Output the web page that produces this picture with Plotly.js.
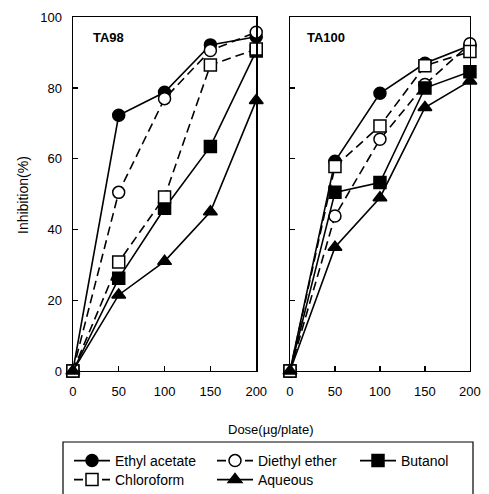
<!DOCTYPE html>
<html>
<head>
<meta charset="utf-8">
<script src="https://cdn.plot.ly/plotly-3.0.1.min.js"></script>
<style>html,body{margin:0;padding:0;background:#fff;}#chart{width:489px;height:494px;}</style>
</head>
<body>
<div id="chart"></div>
<script>
const doses = [0, 50, 100, 150, 200];
const seriesNames = ["Ethyl acetate", "Diethyl ether", "Butanol", "Chloroform", "Aqueous"];
// TA98 panel
const ta98_ethylAcetate = [0, 72.3, 78.8, 92.2, 94.5];
const ta98_diethylEther = [0, 50.5, 77.0, 90.6, 95.8];
const ta98_butanol      = [0, 26.2, 46.0, 63.5, 90.5];
const ta98_chloroform   = [0, 30.8, 49.2, 86.5, 91.0];
const ta98_aqueous      = [0, 21.5, 31.0, 45.0, 76.5];
// TA100 panel
const ta100_ethylAcetate = [0, 59.3, 78.5, 87.0, 92.0];
const ta100_diethylEther = [0, 43.8, 65.5, 81.0, 92.5];
const ta100_butanol      = [0, 50.5, 53.3, 80.0, 84.6];
const ta100_chloroform   = [0, 57.8, 69.3, 86.3, 90.3];
const ta100_aqueous      = [0, 35.0, 49.0, 74.5, 82.0];
const panelLabels = ["TA98", "TA100"];
const yTicks = [0, 20, 40, 60, 80, 100];

const styles = [
  {symbol: "circle", fill: "#000", dash: "solid", legend: "legend"},
  {symbol: "circle", fill: "#fff", dash: "9px,5px", legend: "legend"},
  {symbol: "square", fill: "#000", dash: "solid", legend: "legend"},
  {symbol: "square", fill: "#fff", dash: "9px,5px", legend: "legend2"},
  {symbol: "triangle-up", fill: "#000", dash: "solid", legend: "legend2"}
];
const ta98 = [ta98_ethylAcetate, ta98_diethylEther, ta98_butanol, ta98_chloroform, ta98_aqueous];
const ta100 = [ta100_ethylAcetate, ta100_diethylEther, ta100_butanol, ta100_chloroform, ta100_aqueous];

const traces = [];
[ta98, ta100].forEach((panel, p) => {
  panel.forEach((vals, i) => {
    const st = styles[i];
    traces.push({
      type: "scatter", mode: "lines+markers",
      x: doses, y: vals,
      xaxis: p === 0 ? "x" : "x2", yaxis: p === 0 ? "y" : "y2",
      name: seriesNames[i], legendgroup: seriesNames[i], showlegend: p === 0,
      legend: st.legend,
      cliponaxis: false,
      line: {color: "#000", width: 1.6, dash: st.dash},
      marker: {symbol: st.symbol, size: 12, color: st.fill,
               line: {color: "#000", width: 1.5}}
    });
  });
});

const fam = "Liberation Sans, Arial, sans-serif";
const axBase = {
  range: [0, 200], tickvals: doses, ticks: "inside", ticklen: 5, tickwidth: 1.2,
  tickcolor: "#000", showline: true, linecolor: "#000", linewidth: 1.3, mirror: true,
  showgrid: false, zeroline: false, tickfont: {family: fam, size: 13, color: "#000"},
  ticklabelstandoff: 8, fixedrange: true
};
const yBase = Object.assign({}, axBase, {range: [0, 100], tickvals: yTicks, ticklabelstandoff: 7});

const legBase = {
  orientation: "h", xanchor: "left", yanchor: "top",
  borderwidth: 0, bgcolor: "rgba(0,0,0,0)",
  font: {family: fam, size: 14, color: "#000"},
  entrywidth: 92, itemwidth: 36, traceorder: "normal", x: 69 / 489
};

const layout = {
  width: 489, height: 494,
  margin: {l: 0, r: 0, t: 0, b: 0, autoexpand: false},
  paper_bgcolor: "#fff", plot_bgcolor: "#fff",
  font: {family: fam, color: "#000"},
  showlegend: true,
  xaxis: Object.assign({}, axBase, {domain: [0.149, 0.524], anchor: "y"}),
  xaxis2: Object.assign({}, axBase, {domain: [0.593, 0.961], anchor: "y2"}),
  yaxis: Object.assign({}, yBase, {domain: [0.249, 0.965], anchor: "x"}),
  yaxis2: Object.assign({}, yBase, {domain: [0.249, 0.965], anchor: "x2", showticklabels: false}),
  legend: Object.assign({}, legBase, {y: 1 - 445 / 494}),
  legend2: Object.assign({}, legBase, {y: 1 - 464 / 494}),
  shapes: [
    {type: "rect", xref: "paper", yref: "paper", x0: 63 / 489, x1: 473 / 489, y0: -0.02, y1: 1 - 442 / 494,
     line: {color: "#000", width: 1.2}, fillcolor: "rgba(0,0,0,0)"}
  ],
  annotations: [
    {text: panelLabels[0], xref: "x domain", yref: "y domain", x: 0.10, y: 0.944, xanchor: "left", yanchor: "middle", showarrow: false, font: {family: fam, size: 13, color: "#000", weight: "bold"}},
    {text: panelLabels[1], xref: "x2 domain", yref: "y2 domain", x: 0.083, y: 0.944, xanchor: "left", yanchor: "middle", showarrow: false, font: {family: fam, size: 13, color: "#000", weight: "bold"}},
    {text: "Dose(µg/plate)", xref: "paper", yref: "paper", x: 271 / 489, y: 1 - 429 / 494, xanchor: "center", yanchor: "middle", showarrow: false, font: {family: fam, size: 13, color: "#000"}},
    {text: "Inhibition(%)", xref: "paper", yref: "paper", x: 23 / 489, y: 1 - 195 / 494, xanchor: "center", yanchor: "middle", textangle: -90, showarrow: false, font: {family: fam, size: 14, color: "#000"}}
  ]
};

Plotly.newPlot("chart", traces, layout, {displayModeBar: false, staticPlot: true});
</script>
</body>
</html>
